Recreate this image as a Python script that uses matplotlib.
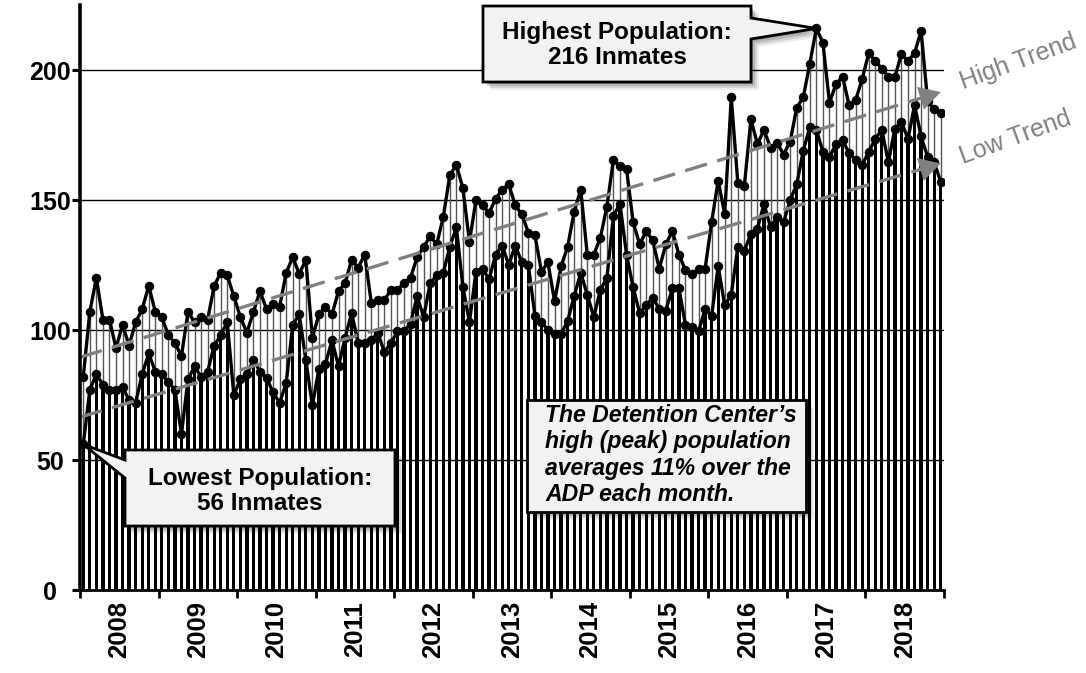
import numpy as np
import matplotlib
matplotlib.use("Agg")
import matplotlib.pyplot as plt
from matplotlib.patches import Polygon
from matplotlib.transforms import Affine2D

plt.rcParams['font.family'] = ['Liberation Sans', 'DejaVu Sans']

years = ['2008', '2009', '2010', '2011', '2012', '2013', '2014', '2015', '2016', '2017', '2018']

high = [82, 107, 120, 104, 104, 93, 102, 94, 103, 108, 117, 107,
        105, 98, 95, 90, 107, 103, 105, 104, 117, 122, 121, 113,
        105, 99, 107, 115, 108, 110, 109, 122, 128, 121.5, 127, 97,
        106, 109, 106, 115, 118, 127, 124, 129, 110.5, 111.5, 111.5, 115.5,
        115.5, 118, 120, 128, 132, 136, 133, 143.5, 159.5, 163.5, 154.5, 134,
        150, 148, 145, 150.5, 154, 156, 148, 144.5, 137.5, 136.5, 122.5, 126,
        111, 124.5, 132, 145.5, 154, 129, 129, 135.5, 147.5, 165.5, 163, 162,
        141.5, 133, 138, 134.5, 123.5, 133, 138, 129, 123, 121.5, 123.5, 123.5,
        141.5, 157.5, 144.5, 189.5, 156.5, 155.5, 181, 171.5, 177, 170, 172, 167.5,
        172.5, 185.5, 189.5, 202.5, 216, 210.5, 187.5, 194.5, 197.5, 186.5, 188.5, 196.5,
        206.5, 203.5, 200.5, 197.5, 197.5, 206, 203.5, 206.5, 215, 188, 185, 183.5]

low = [56, 77, 83, 79, 77, 77, 78, 73, 72, 83, 91, 84,
       83, 80, 77, 60, 81, 86, 82, 84, 94, 98, 103, 75,
       81, 83, 88.5, 84, 81.5, 76, 72, 79.5, 102, 106, 88.5, 71,
       85, 87, 96, 86, 97, 106.5, 95, 95, 96, 99, 91.5, 95,
       99.5, 99.5, 102.5, 113, 105, 118, 121, 122, 132, 139.5, 116.5, 103,
       122.5, 123.5, 119.5, 129, 132.5, 125, 132.5, 126, 125, 105.5, 103, 100,
       98.5, 98.5, 103.5, 113, 122, 113.5, 105, 115.5, 120, 144, 148.5, 129,
       116.5, 106.5, 109.5, 112.5, 108, 107.5, 116, 116, 102, 101, 99.5, 108,
       105.5, 124.5, 109.5, 113.5, 132, 130.5, 137, 139, 148.5, 139.5, 143.5, 141.5,
       150, 156, 169, 178, 177, 168.5, 166.5, 171.5, 173, 168, 165.5, 163.5,
       168.5, 173.5, 177, 164.5, 177.5, 180, 173.5, 186.5, 174.5, 166.5, 164.5, 157]

W, H = 1086, 673
fig = plt.figure(figsize=(W / 100, H / 100), dpi=100)
ax = fig.add_axes([80 / W, 1 - 590 / H, (944 - 80) / W, (590 - 5) / H])

n = len(high)
x = np.arange(n)
GRAY = '#808080'

ax.set_xlim(-0.5, n - 0.5)
ax.set_ylim(0, 225)

# gridlines
for v in [50, 100, 150, 200]:
    ax.axhline(v, color='black', lw=1.0, zorder=1)

ax.bar(x, low, width=0.5, color='black', zorder=2)
ax.vlines(x, low, high, color='#555555', lw=1.0, zorder=2)
ax.plot(x, high, '-o', color='black', lw=2.4, ms=5.8, zorder=4)
ax.plot(x, low, '-o', color='black', lw=2.4, ms=5.8, zorder=4)

# trend lines
for series in (high, low):
    c = np.polyfit(x, series, 1)
    xs = np.array([-0.5, n - 1.6])
    ys = np.polyval(c, xs)
    ax.plot(xs, ys, color=GRAY, lw=2.4, dashes=(6.8, 3.2), zorder=5)
    xe = n - 0.6
    ax.annotate('', xy=(xe, np.polyval(c, xe)), xytext=(xe - 2.5, np.polyval(c, xe - 2.5)),
                arrowprops=dict(arrowstyle='-|>,head_length=0.8,head_width=0.45',
                                color=GRAY, lw=0, mutation_scale=19), zorder=5)

# axes styling
for s in ['top', 'right']:
    ax.spines[s].set_visible(False)
ax.spines['left'].set_linewidth(2.6)
ax.spines['bottom'].set_linewidth(2.0)
ax.spines['left'].set_zorder(6)
ax.spines['bottom'].set_zorder(6)

ax.set_yticks([0, 50, 100, 150, 200])
ax.set_yticklabels(['0', '50', '100', '150', '200'], fontsize=18, fontweight='bold', ha='center')
ax.tick_params(axis='y', length=6, width=2.2, pad=15.5)

ax.set_xticks(np.arange(-0.5, n, 12))
ax.set_xticklabels([])
ax.tick_params(axis='x', which='major', length=6, width=2.0)
ax.set_xticks(np.arange(5.5, n, 12), minor=True)
ax.set_xticklabels(years, minor=True, rotation=90, fontsize=18.5, fontweight='bold')
ax.tick_params(axis='x', which='minor', length=0, pad=8)

# pixel transform (origin at top-left)
pix = Affine2D().scale(1 / W, -1 / H).translate(0, 1) + fig.transFigure


def to_pix(xd, yd):
    px, py = ax.transData.transform((xd, yd))
    return px, H - py


def callout(verts, text_items):
    for off, a in [(8, 0.07), (6, 0.10), (4, 0.14), (2, 0.16)]:
        sv = [(vx + off, vy + off) for vx, vy in verts]
        fig.patches.append(Polygon(sv, closed=True, transform=pix, facecolor='#000000',
                                   edgecolor='none', alpha=a, zorder=9))
    fig.patches.append(Polygon(verts, closed=True, transform=pix, facecolor='#f2f2f2',
                               edgecolor='black', lw=2.0, zorder=10, joinstyle='miter'))
    for tx, ty, s, kw in text_items:
        fig.text(tx / W, 1 - ty / H, s, zorder=11, **kw)


# Highest callout
ihi = int(np.argmax(high))
tx, ty = to_pix(ihi, high[ihi])
callout([(483, 6), (751, 6), (751, 18), (tx, ty), (751, 39), (751, 82), (483, 82)],
        [(617, 45, 'Highest Population:\n216 Inmates',
          dict(ha='center', va='center', fontsize=17.5, fontweight='bold', linespacing=1.15))])

# Lowest callout
ilo = int(np.argmin(low))
tx, ty = to_pix(ilo, low[ilo])
callout([(125, 450), (395, 450), (395, 526), (125, 526), (125, 478), (tx, ty), (125, 460)],
        [(260, 491, 'Lowest Population:\n56 Inmates',
          dict(ha='center', va='center', fontsize=17.5, fontweight='bold', linespacing=1.15))])

# Detention center note
callout([(527, 400), (806, 400), (806, 512), (527, 512)],
        [(545, 455, 'The Detention Center\u2019s\nhigh (peak) population\naverages 11% over the\nADP each month.',
          dict(ha='left', va='center', fontsize=16.6, fontweight='bold', style='italic', linespacing=1.17))])

# trend labels
fig.text(1018 / W, 1 - 62 / H, 'High Trend', color=GRAY, fontsize=18, rotation=20,
         ha='center', va='center', rotation_mode='anchor')
fig.text(1015 / W, 1 - 137 / H, 'Low Trend', color=GRAY, fontsize=18, rotation=20,
         ha='center', va='center', rotation_mode='anchor')

fig.savefig('out.png', dpi=100)
